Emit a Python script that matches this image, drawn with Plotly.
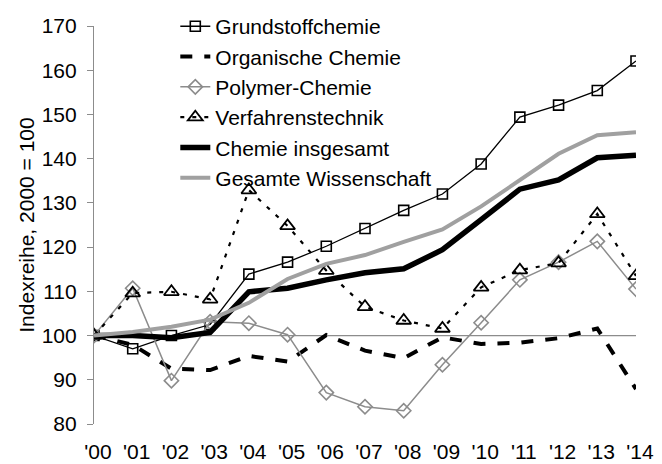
import plotly.graph_objects as go

years = ["'00", "'01", "'02", "'03", "'04", "'05", "'06", "'07", "'08", "'09", "'10", "'11", "'12", "'13", "'14"]

grundstoff = [100, 97.0, 100.0, 102.5, 113.9, 116.6, 120.2, 124.2, 128.3, 132.0, 138.8, 149.4, 152.1, 155.4, 162.1]
organisch = [100, 97.9, 92.5, 92.2, 95.4, 94.1, 100.1, 96.6, 94.9, 99.6, 98.1, 98.4, 99.4, 101.6, 87.9]
polymer = [100, 110.7, 89.8, 103.1, 102.8, 100.2, 87.1, 83.9, 83.0, 93.4, 102.9, 112.6, 116.6, 121.3, 110.5]
verfahren = [100, 109.6, 109.9, 108.2, 132.9, 124.8, 114.7, 106.5, 103.4, 101.6, 110.9, 114.8, 116.4, 127.5, 113.5]
chemie_ges = [100, 100.0, 99.5, 100.7, 109.9, 110.7, 112.6, 114.2, 115.1, 119.4, 126.2, 133.1, 135.2, 140.2, 140.8]
wissenschaft = [100, 100.8, 102.0, 103.6, 107.4, 112.8, 116.2, 118.2, 121.2, 124.0, 129.2, 135.2, 141.1, 145.3, 146.0]

y_ticks = [80, 90, 100, 110, 120, 130, 140, 150, 160, 170]

x = list(range(len(years)))
FONT = "Liberation Sans, Arial, sans-serif"

fig = go.Figure()

fig.add_trace(go.Scatter(
    x=x, y=grundstoff, name="Grundstoffchemie", mode="lines+markers", legendgroup="a",
    line=dict(color="black", width=1.3),
    marker=dict(symbol="square-open", size=10, color="black", line=dict(width=1.6, color="black")),
))
fig.add_trace(go.Scatter(
    x=x, y=organisch, name="Organische Chemie", mode="lines", legendgroup="b",
    line=dict(color="black", width=4, dash="12px,12px"),
))
fig.add_trace(go.Scatter(
    x=x, y=polymer, name="Polymer-Chemie", mode="lines+markers", legendgroup="c",
    line=dict(color="#8c8c8c", width=1.5),
    marker=dict(symbol="diamond-open", size=11, color="#8c8c8c", line=dict(width=1.6, color="#8c8c8c")),
))
fig.add_trace(go.Scatter(
    x=x, y=verfahren, name="Verfahrenstechnik", mode="lines+markers", legendgroup="d",
    line=dict(color="black", width=2.2, dash="4px,8px"),
    marker=dict(symbol="triangle-up-open", size=13, color="black", line=dict(width=1.8, color="black")),
))
fig.add_trace(go.Scatter(
    x=x, y=chemie_ges, name="Chemie insgesamt", mode="lines", legendgroup="e",
    line=dict(color="black", width=5.5),
))
fig.add_trace(go.Scatter(
    x=x, y=wissenschaft, name="Gesamte Wissenschaft", mode="lines", legendgroup="f",
    line=dict(color="#a0a0a0", width=4),
))

fig.add_shape(type="line", xref="x", yref="y", x0=0, x1=len(years) - 1, y0=100, y1=100,
              line=dict(color="#8c8c8c", width=1.2), layer="below")

fig.update_layout(
    width=662, height=464,
    margin=dict(l=86, r=34, t=18, b=48, autoexpand=False),
    paper_bgcolor="white", plot_bgcolor="white",
    font=dict(family=FONT, size=21, color="black"),
    showlegend=True,
    legend=dict(
        x=0.15, y=1.05, xanchor="left", yanchor="top",
        bgcolor="rgba(0,0,0,0)", font=dict(size=21),
        tracegroupgap=0, itemwidth=30,
    ),
    xaxis=dict(
        range=[0, len(years) - 1], tickmode="array", tickvals=x, ticktext=years,
        showline=False, showgrid=False, zeroline=False, ticks="",
        ticklabelstandoff=13, ticklabelshift=4,
    ),
    yaxis=dict(
        range=[80, 170], tickvals=y_ticks, showgrid=False, zeroline=False,
        showline=True, linecolor="#8c8c8c", linewidth=1.2,
        ticks="outside", ticklen=6, tickcolor="#8c8c8c",
        ticklabelstandoff=6,
        title=dict(text="Indexreihe, 2000 = 100", font=dict(size=21), standoff=1),
    ),
)

fig.write_html("out.html")
